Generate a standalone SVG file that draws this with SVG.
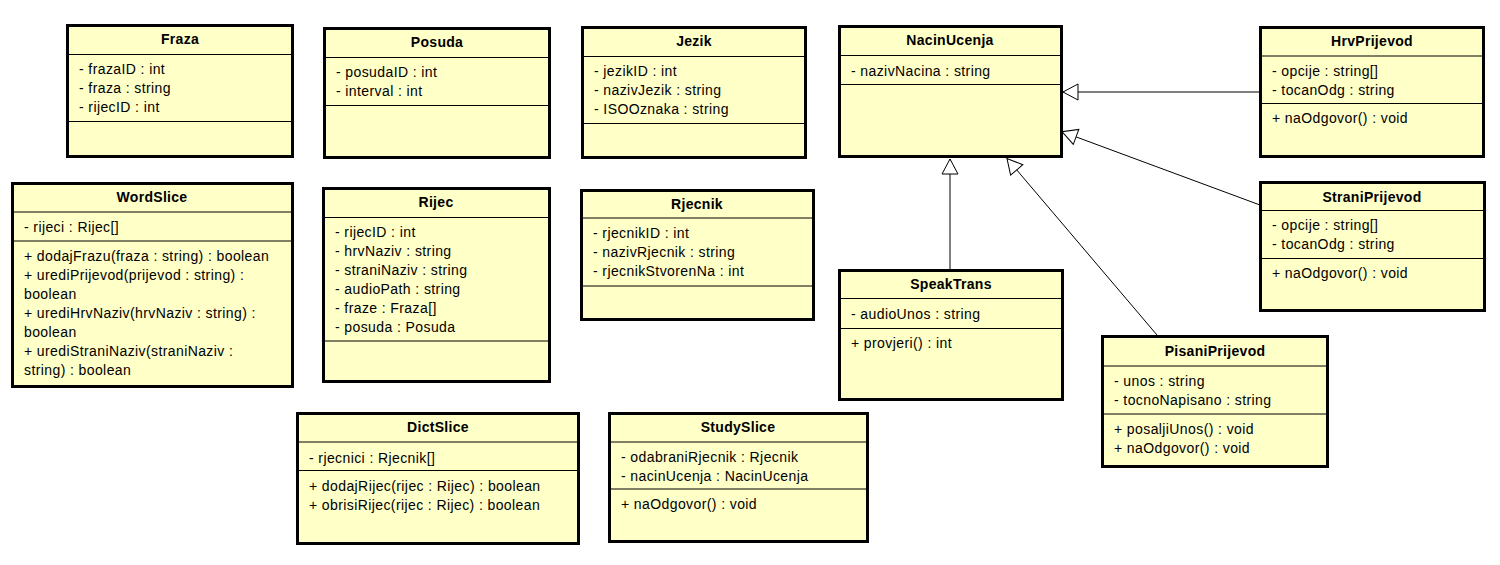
<svg xmlns="http://www.w3.org/2000/svg" width="1500" height="565" viewBox="0 0 1500 565">
<style>
.box{fill:#FFFFC8;stroke:#000;stroke-width:3}
.sep{stroke:#000;stroke-width:1}
text{font-family:"Liberation Sans",Arial,sans-serif;font-size:14px;fill:#000;letter-spacing:0.4px}
.h{font-weight:bold;text-anchor:middle;letter-spacing:0.3px}
.c{stroke:#000;stroke-width:1;fill:none}
</style>
<defs>
<marker id="gen" markerUnits="userSpaceOnUse" markerWidth="18" markerHeight="18" refX="15" refY="8" orient="auto" overflow="visible">
<path d="M0,0 L15,8 L0,16 Z" fill="#fff" stroke="#000" stroke-width="1"/>
</marker>
</defs>
<rect width="1500" height="565" fill="#fff"/>

<g id="connectors">
<path class="c" d="M1259,92 L1063,92" marker-end="url(#gen)"/>
<path class="c" d="M1260,205 L1062,131.7" marker-end="url(#gen)"/>
<path class="c" d="M950,269 L950,159" marker-end="url(#gen)"/>
<path class="c" d="M1157,335 L1007,158.5" marker-end="url(#gen)"/>
</g>

<g id="Fraza">
<rect class="box" x="67.5" y="25.5" width="225" height="131"/>
<line class="sep" x1="67" y1="54.5" x2="293" y2="54.5"/>
<line class="sep" x1="67" y1="121.5" x2="293" y2="121.5"/>
<text class="h" x="180" y="44">Fraza</text>
<text x="79" y="74">- frazaID : int</text>
<text x="79" y="93">- fraza : string</text>
<text x="79" y="112">- rijecID : int</text>
</g>

<g id="Posuda">
<rect class="box" x="324.5" y="28.5" width="225" height="129"/>
<line class="sep" x1="324" y1="57.5" x2="550" y2="57.5"/>
<line class="sep" x1="324" y1="105.5" x2="550" y2="105.5"/>
<text class="h" x="437" y="47">Posuda</text>
<text x="336" y="77">- posudaID : int</text>
<text x="336" y="96">- interval : int</text>
</g>

<g id="Jezik">
<rect class="box" x="582.5" y="27.5" width="223" height="130"/>
<line class="sep" x1="582" y1="56.5" x2="806" y2="56.5"/>
<line class="sep" x1="582" y1="123.5" x2="806" y2="123.5"/>
<text class="h" x="694" y="46">Jezik</text>
<text x="594" y="76">- jezikID : int</text>
<text x="594" y="95">- nazivJezik : string</text>
<text x="594" y="114">- ISOOznaka : string</text>
</g>

<g id="NacinUcenja">
<rect class="box" x="839.5" y="26.5" width="222" height="130"/>
<line class="sep" x1="839" y1="55.5" x2="1062" y2="55.5"/>
<line class="sep" x1="839" y1="84.5" x2="1062" y2="84.5"/>
<text class="h" x="950" y="45">NacinUcenja</text>
<text x="851" y="75.5">- nazivNacina : string</text>
</g>

<g id="HrvPrijevod">
<rect class="box" x="1260.5" y="27.5" width="223" height="129"/>
<line class="sep" x1="1260" y1="56" x2="1484" y2="56"/>
<line class="sep" x1="1260" y1="103.5" x2="1484" y2="103.5"/>
<text class="h" x="1372" y="46">HrvPrijevod</text>
<text x="1272" y="75.5">- opcije : string[]</text>
<text x="1272" y="94.5">- tocanOdg : string</text>
<text x="1272" y="123">+ naOdgovor() : void</text>
</g>

<g id="WordSlice">
<rect class="box" x="12.5" y="183.5" width="280" height="203"/>
<line class="sep" x1="12" y1="212" x2="293" y2="212"/>
<line class="sep" x1="12" y1="241" x2="293" y2="241"/>
<text class="h" x="152" y="202">WordSlice</text>
<text x="24" y="231.5">- rijeci : Rijec[]</text>
<text x="24" y="260.5">+ dodajFrazu(fraza : string) : boolean</text>
<text x="24" y="279.5">+ urediPrijevod(prijevod : string) :</text>
<text x="24" y="298.5">boolean</text>
<text x="24" y="317.5">+ urediHrvNaziv(hrvNaziv : string) :</text>
<text x="24" y="336.5">boolean</text>
<text x="24" y="355.5">+ urediStraniNaziv(straniNaziv :</text>
<text x="24" y="374.5">string) : boolean</text>
</g>

<g id="Rijec">
<rect class="box" x="323.5" y="188.5" width="226" height="193"/>
<line class="sep" x1="323" y1="217.5" x2="550" y2="217.5"/>
<line class="sep" x1="323" y1="341" x2="550" y2="341"/>
<text class="h" x="436" y="207">Rijec</text>
<text x="335" y="237">- rijecID : int</text>
<text x="335" y="256">- hrvNaziv : string</text>
<text x="335" y="275">- straniNaziv : string</text>
<text x="335" y="294">- audioPath : string</text>
<text x="335" y="313">- fraze : Fraza[]</text>
<text x="335" y="332">- posuda : Posuda</text>
</g>

<g id="Rjecnik">
<rect class="box" x="581.5" y="190.5" width="232" height="129"/>
<line class="sep" x1="581" y1="218" x2="814" y2="218"/>
<line class="sep" x1="581" y1="286" x2="814" y2="286"/>
<text class="h" x="697" y="209">Rjecnik</text>
<text x="593" y="238">- rjecnikID : int</text>
<text x="593" y="257">- nazivRjecnik : string</text>
<text x="593" y="276">- rjecnikStvorenNa : int</text>
</g>

<g id="SpeakTrans">
<rect class="box" x="839.5" y="270.5" width="223" height="129"/>
<line class="sep" x1="839" y1="298.5" x2="1063" y2="298.5"/>
<line class="sep" x1="839" y1="328.5" x2="1063" y2="328.5"/>
<text class="h" x="951" y="289">SpeakTrans</text>
<text x="851" y="318.5">- audioUnos : string</text>
<text x="851" y="348">+ provjeri() : int</text>
</g>

<g id="StraniPrijevod">
<rect class="box" x="1260.5" y="182.5" width="224" height="128"/>
<line class="sep" x1="1260" y1="210.5" x2="1485" y2="210.5"/>
<line class="sep" x1="1260" y1="258.5" x2="1485" y2="258.5"/>
<text class="h" x="1372" y="202">StraniPrijevod</text>
<text x="1272" y="230">- opcije : string[]</text>
<text x="1272" y="249">- tocanOdg : string</text>
<text x="1272" y="278">+ naOdgovor() : void</text>
</g>

<g id="PisaniPrijevod">
<rect class="box" x="1102.5" y="336.5" width="225" height="130"/>
<line class="sep" x1="1102" y1="366" x2="1328" y2="366"/>
<line class="sep" x1="1102" y1="414" x2="1328" y2="414"/>
<text class="h" x="1215" y="356">PisaniPrijevod</text>
<text x="1114" y="385.5">- unos : string</text>
<text x="1114" y="404.5">- tocnoNapisano : string</text>
<text x="1114" y="433.5">+ posaljiUnos() : void</text>
<text x="1114" y="452.5">+ naOdgovor() : void</text>
</g>

<g id="DictSlice">
<rect class="box" x="297.5" y="413.5" width="281" height="130"/>
<line class="sep" x1="297" y1="442" x2="579" y2="442"/>
<line class="sep" x1="297" y1="470.5" x2="579" y2="470.5"/>
<text class="h" x="438" y="432">DictSlice</text>
<text x="309" y="462.5">- rjecnici : Rjecnik[]</text>
<text x="309" y="491">+ dodajRijec(rijec : Rijec) : boolean</text>
<text x="309" y="510">+ obrisiRijec(rijec : Rijec) : boolean</text>
</g>

<g id="StudySlice">
<rect class="box" x="609.5" y="413.5" width="258" height="128"/>
<line class="sep" x1="609" y1="442" x2="868" y2="442"/>
<line class="sep" x1="609" y1="489" x2="868" y2="489"/>
<text class="h" x="738" y="432">StudySlice</text>
<text x="621" y="462">- odabraniRjecnik : Rjecnik</text>
<text x="621" y="481">- nacinUcenja : NacinUcenja</text>
<text x="621" y="509">+ naOdgovor() : void</text>
</g>
</svg>
